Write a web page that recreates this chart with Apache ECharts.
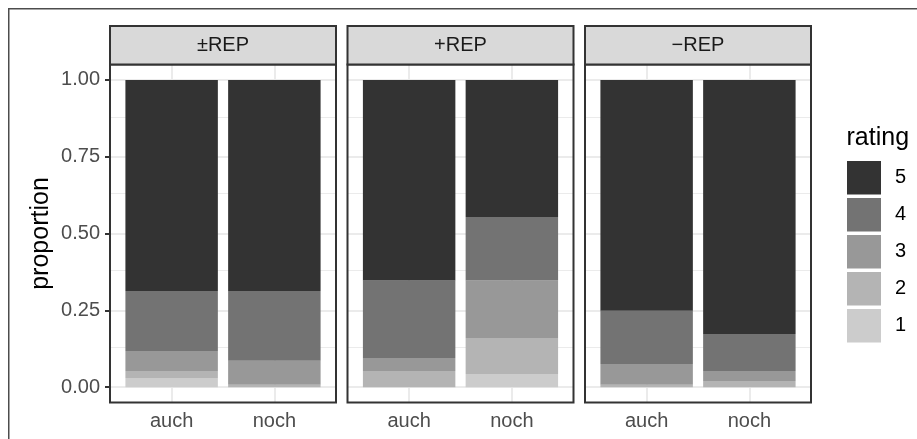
<!DOCTYPE html>
<html><head><meta charset="utf-8">
<script src="https://cdn.jsdelivr.net/npm/echarts@6/dist/echarts.min.js"></script>
<style>html,body{margin:0;padding:0;background:#fff}#c{width:917px;height:439px}</style>
</head><body><div id="c"></div>
<script>
const panels = ['±REP', '+REP', '\u2212REP'];
const categories = ['auch', 'noch'];
const ratings = ['1', '2', '3', '4', '5'];
const legendOrder = ['5', '4', '3', '2', '1'];
const yTicks = [0, 0.25, 0.5, 0.75, 1];
const yMinor = [0.125, 0.375, 0.625, 0.875];
// proportions per panel: [auch, noch]
const rating1 = [[0.030, 0.000], [0.000, 0.043], [0.000, 0.000]];
const rating2 = [[0.023, 0.008], [0.053, 0.117], [0.008, 0.020]];
const rating3 = [[0.065, 0.078], [0.042, 0.187], [0.068, 0.033]];
const rating4 = [[0.195, 0.227], [0.252, 0.207], [0.173, 0.120]];
const rating5 = [[0.687, 0.687], [0.653, 0.446], [0.751, 0.827]];

const ratingValues = { '1': rating1, '2': rating2, '3': rating3, '4': rating4, '5': rating5 };
const colors = { '1': '#CCCCCC', '2': '#B4B4B4', '3': '#989898', '4': '#737373', '5': '#333333' };
const FONT = 'Liberation Sans';

const panelLefts = [110, 347.5, 585];
const panelW = 226, panelTop = 64.6, panelH = 338;
const stripTop = 26, stripH = 38.6;
const unit = panelW / 2.2;

const grids = [], xAxes = [], yAxes = [], series = [], graphics = [];

graphics.push({ type: 'rect', shape: { x: 8.75, y: 8.75, width: 1000, height: 1000 },
  style: { fill: 'none', stroke: '#4D4D4D', lineWidth: 1.5 }, z: 0, silent: true });

panels.forEach((p, i) => {
  const L = panelLefts[i];
  const ga = 2 * i, gb = 2 * i + 1;
  // grid A: full panel, used for gridlines, ticks, labels
  grids.push({ left: L, top: panelTop, width: panelW, height: panelH, show: false });
  // grid B: category band area for the bars
  grids.push({ left: L + 0.1 * unit, top: panelTop, width: 2 * unit, height: panelH, show: false });
  xAxes.push({
    type: 'value', gridIndex: ga, min: 0.4, max: 2.6,
    axisLine: { show: false }, splitLine: { show: false },
    axisTick: { show: true, customValues: [1, 2], length: 5, lineStyle: { color: '#333', width: 2 } },
    axisLabel: { show: true, customValues: [1, 2], margin: 9, color: '#4D4D4D', fontSize: 20, fontFamily: FONT,
      formatter: v => categories[Math.round(v) - 1] }
  });
  xAxes.push({
    type: 'category', gridIndex: gb, data: categories, boundaryGap: true,
    axisLine: { show: false }, axisTick: { show: false }, axisLabel: { show: false }, splitLine: { show: false }
  });
  yAxes.push({
    type: 'value', gridIndex: ga, min: -0.05, max: 1.05,
    axisLine: { show: false }, splitLine: { show: false },
    axisTick: { show: i === 0, customValues: yTicks, length: 5, lineStyle: { color: '#333', width: 2 } },
    axisLabel: { show: i === 0, customValues: yTicks, margin: 10, color: '#4D4D4D', fontSize: 20, fontFamily: FONT,
      formatter: v => v.toFixed(2) }
  });
  yAxes.push({
    type: 'value', gridIndex: gb, min: -0.05, max: 1.05,
    axisLine: { show: false }, axisTick: { show: false }, axisLabel: { show: false }, splitLine: { show: false }
  });
  const ml = [];
  yTicks.forEach(v => ml.push({ yAxis: v, lineStyle: { color: '#EBEBEB', width: 2, type: 'solid' } }));
  yMinor.forEach(v => ml.push({ yAxis: v, lineStyle: { color: '#EBEBEB', width: 1, type: 'solid' } }));
  [1, 2].forEach(v => ml.push({ xAxis: v, lineStyle: { color: '#EBEBEB', width: 2, type: 'solid' } }));
  series.push({
    type: 'scatter', xAxisIndex: ga, yAxisIndex: ga, data: [], silent: true, z: 1,
    markLine: { z: 1, silent: true, symbol: ['none', 'none'], label: { show: false }, animation: false, data: ml }
  });
  ratings.forEach(r => {
    series.push({
      type: 'bar', name: r, stack: 'panel' + i, xAxisIndex: gb, yAxisIndex: gb,
      barWidth: '90%', z: 3, silent: true,
      itemStyle: { color: colors[r] },
      emphasis: { disabled: true },
      data: ratingValues[r][i]
    });
  });
  graphics.push({ type: 'rect', shape: { x: L, y: panelTop, width: panelW, height: panelH },
    style: { fill: 'none', stroke: '#333', lineWidth: 2 }, z: 100, silent: true });
  graphics.push({ type: 'rect', shape: { x: L, y: stripTop, width: panelW, height: stripH },
    style: { fill: '#D9D9D9', stroke: '#333', lineWidth: 2 }, z: 100, silent: true });
  graphics.push({ type: 'text', x: L + panelW / 2, y: stripTop + stripH / 2, z: 101, silent: true,
    style: { text: p, fontSize: 20, fontFamily: FONT, fill: '#1A1A1A', align: 'center', verticalAlign: 'middle' } });
});

graphics.push({ type: 'text', x: 41, y: 233.5, rotation: Math.PI / 2, z: 101, silent: true,
  style: { text: 'proportion', fontSize: 25, fontFamily: FONT, fill: '#000', align: 'center', verticalAlign: 'middle' } });
graphics.push({ type: 'text', x: 846.5, y: 138, z: 101, silent: true,
  style: { text: 'rating', fontSize: 25, fontFamily: FONT, fill: '#000', align: 'left', verticalAlign: 'middle' } });

const chart = echarts.init(document.getElementById('c'), null, { renderer: 'canvas' });
chart.setOption({
  animation: false,
  backgroundColor: '#fff',
  grid: grids, xAxis: xAxes, yAxis: yAxes, series: series,
  legend: {
    data: legendOrder, orient: 'vertical', left: 847, top: 161, padding: 0,
    itemWidth: 34, itemHeight: 33.5, itemGap: 3.5, icon: 'rect', selectedMode: false,
    textStyle: { fontSize: 20, fontFamily: FONT, color: '#000', padding: [0, 0, 0, 9] }
  },
  graphic: graphics
});
</script></body></html>
